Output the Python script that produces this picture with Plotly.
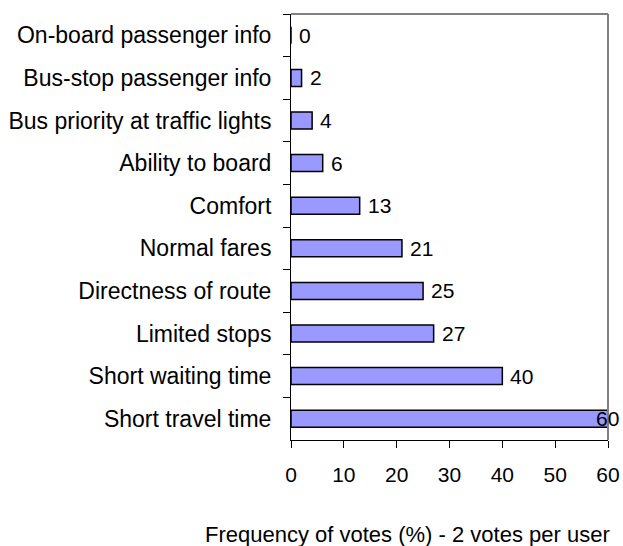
import plotly.graph_objects as go

categories = [
    "On-board passenger info",
    "Bus-stop passenger info",
    "Bus priority at traffic lights",
    "Ability to board",
    "Comfort",
    "Normal fares",
    "Directness of route",
    "Limited stops",
    "Short waiting time",
    "Short travel time",
]
values = [0, 2, 4, 6, 13, 21, 25, 27, 40, 60]
x_ticks = [0, 10, 20, 30, 40, 50, 60]
x_title = "Frequency of votes (%) - 2 votes per user"

FONT = "Liberation Sans, Arial, sans-serif"
FS_NUM = 21
FS_TXT = 23
FS_TITLE = 22
XMAX = 60

fig = go.Figure()
fig.add_trace(go.Bar(
    y=categories,
    x=values,
    orientation="h",
    marker=dict(color="#9999FF", line=dict(color="black", width=1.5)),
    hoverinfo="skip",
))

annotations = []
for c, v in zip(categories, values):
    if v >= XMAX:
        annotations.append(dict(x=v, y=c, xref="x", yref="y", text=str(v), showarrow=False,
                                xanchor="right", xshift=13, font=dict(family=FONT, size=FS_NUM, color="black")))
    else:
        annotations.append(dict(x=v, y=c, xref="x", yref="y", text=str(v), showarrow=False,
                                xanchor="left", xshift=6, font=dict(family=FONT, size=FS_NUM, color="black")))

annotations.append(dict(x=-0.278, y=-0.222, xref="paper", yref="paper", text=x_title,
                        showarrow=False, xanchor="left", yanchor="middle",
                        font=dict(family=FONT, size=FS_TITLE, color="black")))

fig.update_layout(
    width=623, height=546, autosize=False,
    margin=dict(l=291, r=15, t=14, b=106, pad=0),
    paper_bgcolor="white", plot_bgcolor="white",
    bargap=0.6,
    showlegend=False,
    font=dict(family=FONT, size=FS_NUM, color="black"),
    annotations=annotations,
    shapes=[
        dict(type="line", xref="paper", yref="paper", x0=0, x1=1, y0=1, y1=1,
             line=dict(color="#808080", width=2)),
        dict(type="line", xref="paper", yref="paper", x0=1, x1=1, y0=0, y1=1,
             line=dict(color="#808080", width=2)),
    ],
    xaxis=dict(
        range=[0, XMAX], tickvals=x_ticks, ticktext=[str(t) for t in x_ticks],
        showgrid=False, zeroline=False, automargin=False,
        showline=True, linecolor="black", linewidth=1,
        ticks="outside", ticklen=7, tickcolor="black", tickwidth=1,
        ticklabelstandoff=9,
        tickfont=dict(family=FONT, size=FS_NUM, color="black"),
        fixedrange=True,
    ),
    yaxis=dict(
        categoryorder="array", categoryarray=categories,
        autorange="reversed", automargin=False,
        showgrid=False, zeroline=False,
        showline=True, linecolor="black", linewidth=1,
        ticks="outside", ticklen=7, tickcolor="black", tickwidth=1,
        tickson="boundaries",
        ticklabelstandoff=14,
        tickfont=dict(family=FONT, size=FS_TXT, color="black"),
        fixedrange=True,
    ),
)

fig.write_html(
    "out.html",
    config={"displayModeBar": False},
    post_script="document.body.style.margin='0';document.body.style.overflow='hidden';",
)
